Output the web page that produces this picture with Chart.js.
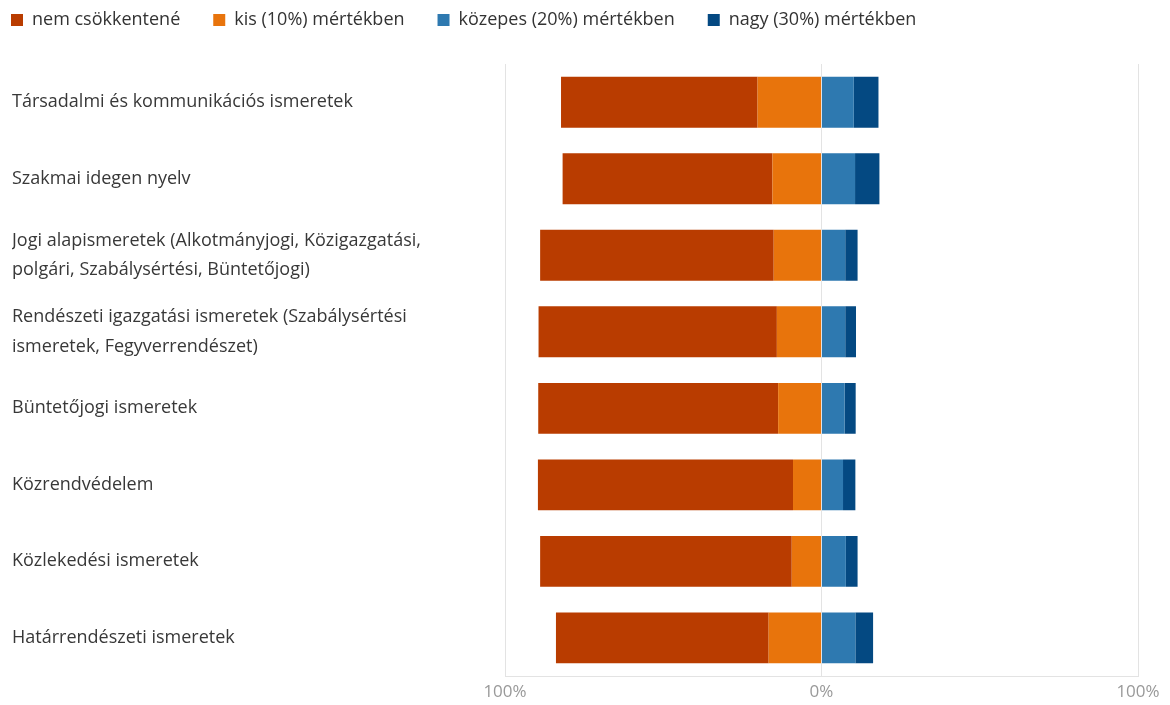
<!DOCTYPE html>
<html>
<head>
<meta charset="utf-8">
<script src="https://cdn.jsdelivr.net/npm/chart.js@4.4.1/dist/chart.umd.min.js"></script>
<style>
  body { margin: 0; background: #fff; }
  #wrap { width: 1170px; height: 705px; position: relative; }
</style>
</head>
<body>
<div id="wrap"><canvas id="chart"></canvas></div>
<script>
// categories (multi-line labels as arrays)
const categories = [
  'Társadalmi és kommunikációs ismeretek',
  'Szakmai idegen nyelv',
  ['Jogi alapismeretek (Alkotmányjogi, Közigazgatási,', 'polgári, Szabálysértési, Büntetőjogi)'],
  ['Rendészeti igazgatási ismeretek (Szabálysértési', 'ismeretek, Fegyverrendészet)'],
  'Büntetőjogi ismeretek',
  'Közrendvédelem',
  'Közlekedési ismeretek',
  'Határrendészeti ismeretek'
];

// percentages per answer
const nemValues = [62.1, 66.3, 73.8, 75.3, 75.8, 80.6, 79.5, 67.2];
const kisValues = [20.2, 15.5, 15.1, 14.1, 13.7, 9.0, 9.4, 16.7];
const kozepesValues = [10.2, 10.6, 7.5, 7.5, 7.3, 6.8, 7.7, 10.7];
const nagyValues = [7.8, 7.7, 3.9, 3.4, 3.5, 3.9, 3.7, 5.6];

const xTicks = [-100, 0, 100];

const seriesNames = ['nem csökkentené', 'kis (10%) mértékben', 'közepes (20%) mértékben', 'nagy (30%) mértékben'];
const colors = ['#B93C00', '#E8740C', '#2E79B0', '#044982'];

const font = 'Open Sans, sans-serif';

// "kis" goes first so it sits next to zero on the negative side
const datasets = [
  { label: seriesNames[1], data: kisValues.map(v => -v), backgroundColor: colors[1] },
  { label: seriesNames[0], data: nemValues.map(v => -v), backgroundColor: colors[0] },
  { label: seriesNames[2], data: kozepesValues, backgroundColor: colors[2] },
  { label: seriesNames[3], data: nagyValues, backgroundColor: colors[3] }
];

// pull the legend up into the top-left corner
const legendShift = {
  id: 'legendShift',
  afterLayout(chart) {
    chart.legend.left -= 34;
    chart.legend.top -= 25;
  }
};

const ctx = document.getElementById('chart').getContext('2d');
new Chart(ctx, {
  type: 'bar',
  data: { labels: categories, datasets: datasets },
  plugins: [legendShift],
  options: {
    indexAxis: 'y',
    responsive: true,
    maintainAspectRatio: false,
    animation: false,
    datasets: {
      bar: { categoryPercentage: 1.0, barPercentage: 0.665 }
    },
    layout: { padding: { left: 12, right: 32, top: 3, bottom: -3 } },
    plugins: {
      tooltip: { enabled: false },
      legend: {
        position: 'top',
        align: 'start',
        labels: {
          boxWidth: 12,
          boxHeight: 12,
          padding: 33,
          color: '#333',
          font: { family: font, size: 18 },
          sort: (a, b) => seriesNames.indexOf(a.text) - seriesNames.indexOf(b.text)
        }
      }
    },
    scales: {
      x: {
        stacked: true,
        min: -100,
        max: 100,
        afterBuildTicks: (scale) => { scale.ticks = xTicks.map(v => ({ value: v })); },
        ticks: {
          color: '#999',
          font: { family: font, size: 17, lineHeight: 1.05 },
          padding: 7,
          callback: (v) => Math.abs(v) + '%'
        },
        grid: { color: '#e3e3e3', drawTicks: false },
        border: { color: '#e3e3e3' }
      },
      y: {
        stacked: true,
        afterFit: (scale) => { scale.width = 493; },
        ticks: {
          crossAlign: 'far',
          color: '#383838',
          padding: 10,
          font: { family: font, size: 18, lineHeight: 1.65 }
        },
        grid: { display: false },
        border: { color: '#e3e3e3' }
      }
    }
  }
});
</script>
</body>
</html>
